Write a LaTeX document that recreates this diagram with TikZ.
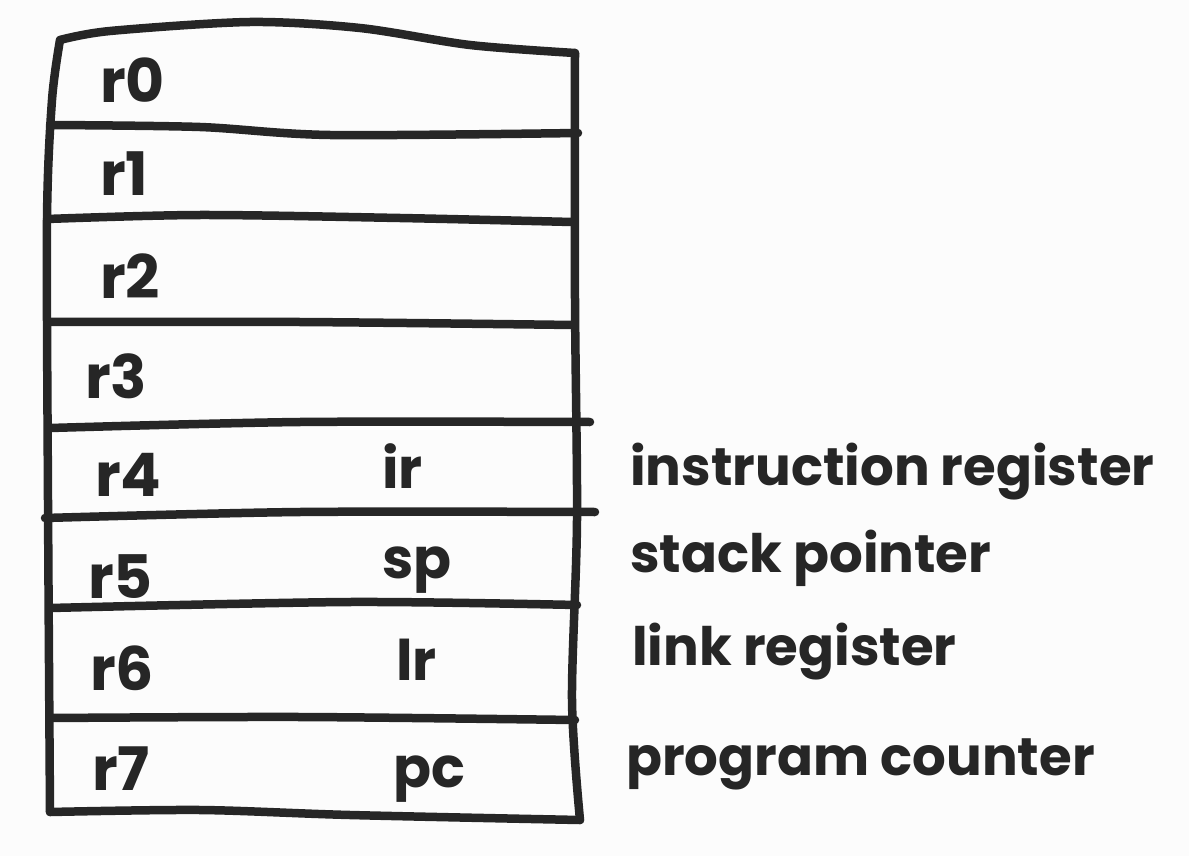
\documentclass[tikz,border=0pt]{standalone}
\usepackage{fontspec}
\setmainfont{Poppins}
\definecolor{ink}{HTML}{262626}
\definecolor{paper}{HTML}{FCFCFC}
\begin{document}
\begin{tikzpicture}[x=1pt,y=-1pt,
  stroke/.style={draw=ink,line width=8.5pt,line cap=round,line join=round},
  reg/.style={text=ink,anchor=base west,inner sep=0pt,font=\fontsize{60}{68}\selectfont\bfseries},
  alias/.style={text=ink,anchor=base west,inner sep=0pt,font=\fontsize{56}{64}\selectfont\bfseries},
  desc/.style={text=ink,anchor=base west,inner sep=0pt,font=\fontsize{53}{60}\selectfont\bfseries}]
\fill[paper] (0,0) rectangle (1189,856);
\useasboundingbox (0,0) rectangle (1189,856);
% outer box
\draw[stroke] plot[smooth] coordinates {(60,40) (110,31) (250,22) (360,28) (470,45) (575,53)};
\draw[stroke] plot[smooth] coordinates {(575,53) (575,300) (577,520) (572,700) (580,820)};
\draw[stroke] plot[smooth] coordinates {(50,812) (200,810) (350,815) (580,820)};
\draw[stroke] plot[smooth] coordinates {(60,40) (52,100) (47,220) (48,500) (50,812)};
% row dividers
\draw[stroke] plot[smooth] coordinates {(50,125) (200,127) (330,135) (578,133)};
\draw[stroke] plot[smooth] coordinates {(47,219) (200,215) (400,218) (572,222)};
\draw[stroke] plot[smooth] coordinates {(50,322) (300,322) (574,325)};
\draw[stroke] plot[smooth] coordinates {(50,428) (300,422) (590,422)};
\draw[stroke] plot[smooth] coordinates {(45,518) (300,512) (595,512)};
\draw[stroke] plot[smooth] coordinates {(50,608) (350,602) (577,605)};
\draw[stroke] plot[smooth] coordinates {(50,718) (300,717) (575,720)};
% register names
\node[reg] (r0) at (100,103) {r0};
\node[reg] (r1) at (100,196) {r1};
\node[reg] (r2) at (100,298) {r2};
\node[reg] (r3) at (85,398) {r3};
\node[reg] (r4) at (95,496) {r4};
\node[reg] (r5) at (88,598) {r5};
\node[reg] (r6) at (90,690) {r6};
\node[reg] (r7) at (92,790) {r7};
% aliases
\node[alias] (ir) at (382,488) {ir};
\node[alias] (sp) at (382,578) {sp};
\node[alias] (lr) at (396,680) {lr};
\node[alias] (pc) at (393,787) {pc};
% descriptions
\node[desc] (dir) at (630,485) {instruction register};
\node[desc] (dsp) at (630,572) {stack pointer};
\node[desc] (dlr) at (632,665) {link register};
\node[desc] (dpc) at (626,775) {program counter};
\end{tikzpicture}
\end{document}
